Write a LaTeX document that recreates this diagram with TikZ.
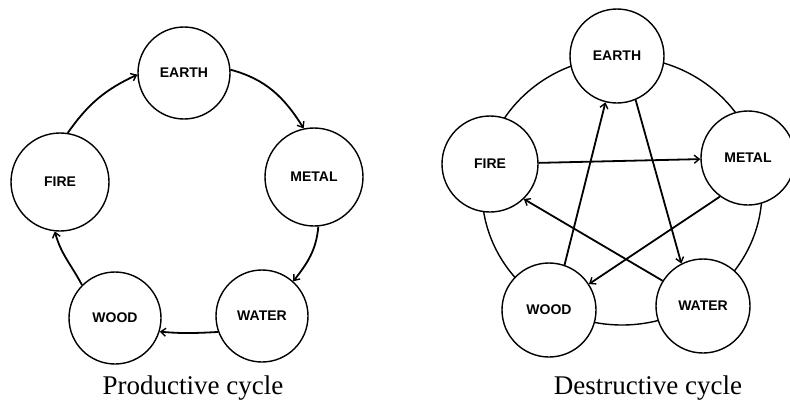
\documentclass[tikz,border=0pt]{standalone}
\usepackage{fontspec}
\setmainfont{Liberation Serif}
\newfontfamily\lblfont{Liberation Sans}
\usetikzlibrary{arrows.meta}
\begin{document}
\begin{tikzpicture}[x=1pt,y=-1pt,
  elem/.style={circle,draw,line width=1.4pt,fill=white,inner sep=0pt,
    font=\lblfont\bfseries\fontsize{14}{16}\selectfont},
  big/.style={elem,minimum size=98pt},
  mid/.style={elem,minimum size=92pt},
  cyc/.style={line width=1.8pt,-{Straight Barb[length=5pt,width=8pt,line width=1.4pt]}},
  captxt/.style={anchor=base,font=\fontsize{27}{30}\selectfont}]
\useasboundingbox (0,0) rectangle (790,402);
% ---------- Productive cycle ----------
\node[mid] (e1) at (184,73) {EARTH};
\node[big] (m1) at (314,177) {METAL};
\node[mid] (w1) at (262,316) {WATER};
\node[mid] (d1) at (115,318) {WOOD};
\node[big] (f1) at (60,182) {FIRE};
\draw[cyc] (f1.81) to[out=55,in=205] (e1.182);
\draw[cyc] (e1.4) to[out=-15,in=122] (m1.102);
\draw[cyc] (m1.-85) to[out=-95,in=52] (w1.48);
\draw[cyc] (w1.200) to[out=183,in=-5] (d1.-17);
\draw[cyc] (d1.135) to[out=118,in=-75] (f1.-96);
\node[captxt] (c1) at (193,394) {Productive cycle};
% ---------- Destructive cycle ----------
\draw[line width=1.4pt] (622,191) ellipse [x radius=140,y radius=134];
\node[mid,minimum size=94pt] (e2) at (617,56) {EARTH};
\node[mid,minimum size=94pt] (m2) at (748,158) {METAL};
\node[mid,minimum size=94pt] (w2) at (703,306) {WATER};
\node[mid,minimum size=94pt] (d2) at (549,310) {WOOD};
\node[mid,minimum size=96pt] (f2) at (490,164) {FIRE};
\draw[cyc] (f2) -- (m2);
\draw[cyc] (e2.-67) -- (w2.117);
\draw[cyc] (m2.-126) -- (d2.33);
\draw[cyc] (w2.148) -- (f2.-46);
\draw[cyc] (d2.71) -- (e2.-104);
\node[captxt] (c2) at (648,394) {Destructive cycle};
\end{tikzpicture}
\end{document}
